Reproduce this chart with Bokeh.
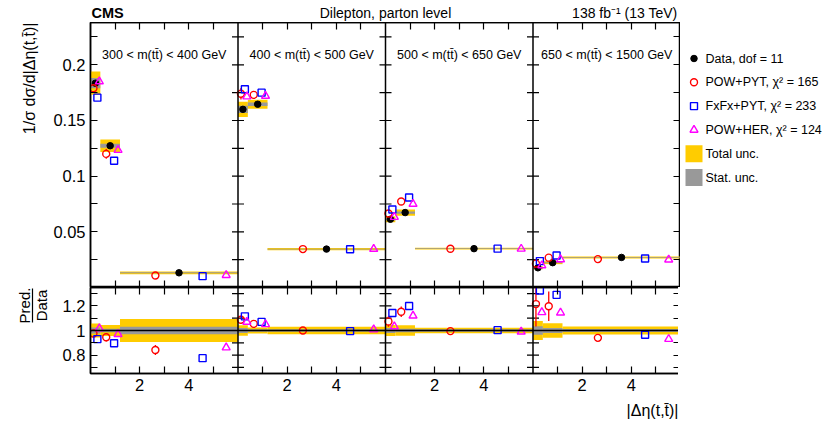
import math
from bokeh.plotting import figure
from bokeh.layouts import column, row
from bokeh.models import (FixedTicker, CustomJSTickFormatter, LinearAxis, Range1d,
                          Span, Label)
from bokeh.core.properties import value
from bokeh.embed import file_html
from bokeh.resources import INLINE

# ---------------- data ----------------
mass_bins = ["300 < m(tt\u0304) < 400 GeV", "400 < m(tt\u0304) < 500 GeV",
             "500 < m(tt\u0304) < 650 GeV", "650 < m(tt\u0304) < 1500 GeV"]
deta_edges = [0.0, 0.4, 1.2, 6.0]

# normalized cross section, 4 mass bins x 3 |delta eta| bins
data_xsec = [0.1835, 0.1273, 0.0132, 0.1600, 0.1646, 0.0345,
             0.0613, 0.0673, 0.0349, 0.0177, 0.0223, 0.0270]
pow_pyt = [0.1790, 0.1200, 0.0108, 0.1740, 0.1730, 0.0345,
           0.0664, 0.0772, 0.0348, 0.0214, 0.0268, 0.0255]
fxfx_pyt = [0.1705, 0.1138, 0.0102, 0.1780, 0.1750, 0.0343,
            0.0700, 0.0808, 0.0349, 0.0237, 0.0288, 0.0260]
pow_her = [0.1850, 0.1234, 0.0111, 0.1715, 0.1720, 0.0346,
           0.0633, 0.0750, 0.0347, 0.0198, 0.0252, 0.0250]

# ratios prediction / data
ratio_pyt = [0.975, 0.945, 0.841, 1.087, 1.054, 1.000,
             1.074, 1.153, 0.995, 1.215, 1.197, 0.940]
ratio_fxfx = [0.930, 0.896, 0.775, 1.115, 1.070, 0.995,
              1.142, 1.200, 1.003, 1.325, 1.290, 0.965]
ratio_her = [1.016, 0.970, 0.861, 1.070, 1.050, 1.008,
             1.033, 1.120, 0.990, 1.148, 1.145, 0.930]

# relative uncertainties
pyt_err_rel = [0.022, 0.037, 0.048, 0.030, 0.010, 0.005,
               0.040, 0.037, 0.005, 0.150, 0.100, 0.010]
total_unc_rel = [0.057, 0.044, 0.094, 0.043, 0.024, 0.030,
                 0.045, 0.042, 0.023, 0.078, 0.060, 0.032]
stat_unc_rel = [0.025, 0.014, 0.030, 0.020, 0.010, 0.010,
                0.020, 0.015, 0.010, 0.035, 0.020, 0.012]

legend_labels = ["Data, dof = 11", "POW+PYT, \u03c7\u00b2 = 165",
                 "FxFx+PYT, \u03c7\u00b2 = 233", "POW+HER, \u03c7\u00b2 = 124",
                 "Total unc.", "Stat. unc."]

# ---------------- style / geometry ----------------
FONT = "Liberation Sans"
PANEL_W = 6.0
N_PANELS = len(mass_bins)
X_END = PANEL_W * N_PANELS
LEFT_W = 50          # strip holding the rotated y titles
LEG_W = 142          # strip holding the legend
HEAD_H = 22          # strip holding the texts above the frame
FOOT_H = 27          # strip holding the x title
FW, TOP_FH, RAT_FH = 590, 265, 86
BORDER_L, BORDER_R, RAT_B = 38, 0, 25
TOTAL_H = HEAD_H + TOP_FH + RAT_FH + RAT_B + FOOT_H
TOP_Y = (0.0, 0.238)
RAT_Y = (0.65, 1.35)
YELLOW = "#FFCC00"
GREY = "#999999"
MARKER_R = 3.6

nb = len(deta_edges) - 1
lefts, rights, centers, widths = [], [], [], []
for i in range(len(data_xsec)):
    k, j = divmod(i, nb)
    l = deta_edges[j] + k * PANEL_W
    r = deta_edges[j + 1] + k * PANEL_W
    lefts.append(l); rights.append(r)
    centers.append(0.5 * (l + r)); widths.append(r - l)

x_data = centers
x_pyt = [c - 0.2 * w for c, w in zip(centers, widths)]
x_fxfx = [c + 0.2 * w for c, w in zip(centers, widths)]
x_her = [c + 0.4 * w for c, w in zip(centers, widths)]

x_major = [k * PANEL_W + t for k in range(N_PANELS) for t in (2, 4)]
x_minor = [k * PANEL_W + t for k in range(N_PANELS) for t in (1, 3, 5)]
x_fmt = CustomJSTickFormatter(code="return String(Math.round(tick) % 6);")
y_fmt = CustomJSTickFormatter(code="return String(Math.round(tick*1000)/1000);")

top_major = [0.05, 0.10, 0.15, 0.20]
top_minor = [0.025, 0.075, 0.125, 0.175, 0.225]
rat_major = [0.8, 1.0, 1.2]
rat_minor = [0.7, 0.9, 1.1, 1.3]


def style_axis(ax, ticker, formatter, labels):
    ax.ticker = ticker
    ax.formatter = formatter
    ax.major_tick_in = 7
    ax.major_tick_out = 0
    ax.minor_tick_in = 7
    ax.minor_tick_out = 0
    ax.axis_line_color = "black"
    ax.axis_line_width = 1.5
    ax.major_tick_line_width = 1.2
    ax.minor_tick_line_width = 1.2
    ax.major_tick_line_color = "black"
    ax.minor_tick_line_color = "black"
    if labels:
        ax.major_label_text_font = FONT
        ax.major_label_text_font_size = "16.5px"
        ax.major_label_text_color = "black"
        ax.major_label_standoff = 5
    else:
        ax.major_label_text_font_size = "0px"
        ax.major_label_text_alpha = 0
        ax.major_label_standoff = 0


def make_fig(frame_h, yr, border_bottom, ymaj, ymin, xlabels):
    p = figure(frame_width=FW, frame_height=frame_h, title=None,
               x_range=Range1d(0, X_END), y_range=Range1d(*yr),
               output_backend="svg", toolbar_location=None,
               min_border_left=BORDER_L, min_border_right=BORDER_R,
               min_border_top=0, min_border_bottom=border_bottom)
    p.grid.visible = False
    p.outline_line_color = "black"
    p.outline_line_width = 1.5
    p.background_fill_color = "white"
    p.border_fill_color = "white"
    style_axis(p.xaxis[0], FixedTicker(ticks=x_major, minor_ticks=x_minor), x_fmt, xlabels)
    style_axis(p.yaxis[0], FixedTicker(ticks=ymaj, minor_ticks=ymin), y_fmt, True)
    ax_top = LinearAxis()
    style_axis(ax_top, FixedTicker(ticks=x_major, minor_ticks=x_minor), x_fmt, False)
    p.add_layout(ax_top, "above")
    ax_right = LinearAxis()
    style_axis(ax_right, FixedTicker(ticks=ymaj, minor_ticks=ymin), y_fmt, False)
    p.add_layout(ax_right, "right")
    # panel dividers with ticks on both sides
    dx = 6.0 * X_END / FW
    sx0, sx1, sy = [], [], []
    for k in range(1, N_PANELS):
        p.add_layout(Span(location=k * PANEL_W, dimension="height",
                          line_color="black", line_width=1.5))
        for t in ymaj + ymin:
            sx0.append(k * PANEL_W - dx); sx1.append(k * PANEL_W + dx); sy.append(t)
    p.segment(x0=sx0, x1=sx1, y0=sy, y1=sy, line_color="black", line_width=1.2)
    return p


def strip_fig(frame_w, frame_h, border_l, border_r):
    p = figure(frame_width=frame_w, frame_height=frame_h, title=None,
               x_range=Range1d(0, frame_w), y_range=Range1d(0, frame_h),
               output_backend="svg", toolbar_location=None,
               x_axis_location=None, y_axis_location=None,
               min_border_left=border_l, min_border_right=border_r,
               min_border_top=0, min_border_bottom=0)
    p.grid.visible = False
    p.outline_line_color = None
    p.background_fill_color = "white"
    p.border_fill_color = "white"
    return p


def err_segments(p, xs, ys, errs, gap):
    x, y0, y1 = [], [], []
    for xi, yi, ei in zip(xs, ys, errs):
        if ei > gap:
            x += [xi, xi]; y0 += [yi + gap, yi - gap]; y1 += [yi + ei, yi - ei]
    p.segment(x0=x, x1=x, y0=y0, y1=y1, line_color="red", line_width=1.3)


# ---------------- top panel ----------------
top = make_fig(TOP_FH, TOP_Y, 0, top_major, top_minor, False)

top.quad(left=lefts, right=rights,
         bottom=[d * (1 - u) for d, u in zip(data_xsec, total_unc_rel)],
         top=[d * (1 + u) for d, u in zip(data_xsec, total_unc_rel)],
         fill_color=YELLOW, line_color=None)
top.quad(left=lefts, right=rights,
         bottom=[d * (1 - u) for d, u in zip(data_xsec, stat_unc_rel)],
         top=[d * (1 + u) for d, u in zip(data_xsec, stat_unc_rel)],
         fill_color=GREY, line_color=None)

top_gap = MARKER_R * (TOP_Y[1] - TOP_Y[0]) / TOP_FH
err_segments(top, x_pyt, pow_pyt, [v * e for v, e in zip(pow_pyt, pyt_err_rel)], top_gap)

top.scatter(x_data, data_xsec, marker="circle", size=6.5,
            fill_color="black", line_color="black")
top.scatter(x_pyt, pow_pyt, marker="circle", size=7, fill_alpha=0,
            line_color="red", line_width=1.4)
top.scatter(x_fxfx, fxfx_pyt, marker="square", size=7, fill_alpha=0,
            line_color="blue", line_width=1.4)
top.scatter(x_her, pow_her, marker="triangle", size=8, fill_alpha=0,
            line_color="magenta", line_width=1.4)

for k, txt in enumerate(mass_bins):
    top.add_layout(Label(x=(k + 0.5) * PANEL_W, y=TOP_Y[1], y_offset=-32,
                         text=txt, text_align="center", text_baseline="alphabetic",
                         text_font=FONT, text_font_size="12.5px", text_color="black"))

# ---------------- ratio panel ----------------
rat = make_fig(RAT_FH, RAT_Y, RAT_B, rat_major, rat_minor, True)
rat.quad(left=lefts, right=rights, bottom=[1 - u for u in total_unc_rel],
         top=[1 + u for u in total_unc_rel], fill_color=YELLOW, line_color=None)
rat.quad(left=lefts, right=rights, bottom=[1 - u for u in stat_unc_rel],
         top=[1 + u for u in stat_unc_rel], fill_color=GREY, line_color=None)
rat.add_layout(Span(location=1.0, dimension="width", line_color="black", line_width=1.5))

rat_gap = MARKER_R * (RAT_Y[1] - RAT_Y[0]) / RAT_FH
err_segments(rat, x_pyt, ratio_pyt, [v * e for v, e in zip(ratio_pyt, pyt_err_rel)], rat_gap)
rat.scatter(x_pyt, ratio_pyt, marker="circle", size=7, fill_alpha=0,
            line_color="red", line_width=1.4)
rat.scatter(x_fxfx, ratio_fxfx, marker="square", size=7, fill_alpha=0,
            line_color="blue", line_width=1.4)
rat.scatter(x_her, ratio_her, marker="triangle", size=8, fill_alpha=0,
            line_color="magenta", line_width=1.4)

# ---------------- header strip (texts above the frame) ----------------
head = strip_fig(FW, HEAD_H, BORDER_L, BORDER_R)
head.text(x=[1], y=[2], text=["CMS"], text_font=value(FONT),
          text_font_style="bold", text_font_size="14.5px",
          text_align="left", text_baseline="bottom")
head.text(x=[FW / 2], y=[2], text=["Dilepton, parton level"],
          text_font=value(FONT), text_font_size="14px",
          text_align="center", text_baseline="bottom")
head.text(x=[FW - 3], y=[2], text=["138 fb\u207b\u00b9 (13 TeV)"],
          text_font=value(FONT), text_font_size="14px",
          text_align="right", text_baseline="bottom")

# ---------------- footer strip (x title) ----------------
foot = strip_fig(FW, FOOT_H, BORDER_L, BORDER_R)
foot.text(x=[FW - 2], y=[FOOT_H - 3], text=["|\u0394\u03b7(t,t\u0304)|"],
          text_font=value(FONT), text_font_size="16px",
          text_align="right", text_baseline="top")

# ---------------- left strip (rotated y titles) ----------------
left = strip_fig(LEFT_W, TOTAL_H, 0, 0)
left.text(x=[37], y=[TOTAL_H - HEAD_H], text=["1/\u03c3 d\u03c3/d|\u0394\u03b7(t,t\u0304)|"],
          angle=math.pi / 2, text_font=value(FONT), text_font_size="16px",
          text_align="right", text_baseline="bottom")
ratio_mid = TOTAL_H - 305
left.text(x=[32.5], y=[ratio_mid], text=["Pred."],
          angle=math.pi / 2, text_font=value(FONT), text_font_size="15px",
          text_align="center", text_baseline="bottom")
left.text(x=[49.5], y=[ratio_mid], text=["Data"],
          angle=math.pi / 2, text_font=value(FONT), text_font_size="15px",
          text_align="center", text_baseline="bottom")
left.segment(x0=[32], x1=[32], y0=[ratio_mid - 17], y1=[ratio_mid + 17],
             line_color="black", line_width=1.2)

# ---------------- legend strip (right of the panels) ----------------
leg = strip_fig(LEG_W, TOTAL_H, 0, 0)
LEG_X_GLYPH, LEG_X_TEXT, LEG_Y0, LEG_DY = 13.5, 25, TOTAL_H - 58, 23.8
leg_y = [LEG_Y0 - i * LEG_DY for i in range(len(legend_labels))]
leg.scatter([LEG_X_GLYPH], [leg_y[0]], marker="circle", size=6.5,
            fill_color="black", line_color="black")
leg.scatter([LEG_X_GLYPH], [leg_y[1]], marker="circle", size=7, fill_alpha=0,
            line_color="red", line_width=1.4)
leg.scatter([LEG_X_GLYPH], [leg_y[2]], marker="square", size=7, fill_alpha=0,
            line_color="blue", line_width=1.4)
leg.scatter([LEG_X_GLYPH], [leg_y[3]], marker="triangle", size=8, fill_alpha=0,
            line_color="magenta", line_width=1.4)
leg.rect(x=[LEG_X_GLYPH, LEG_X_GLYPH], y=[leg_y[4], leg_y[5]], width=17, height=17,
         fill_color=[YELLOW, GREY], line_color=None)
leg.text(x=[LEG_X_TEXT] * len(legend_labels), y=leg_y, text=legend_labels,
         text_font=value(FONT), text_font_size="12.5px",
         text_align="left", text_baseline="middle")

layout = row(left, column(head, top, rat, foot, spacing=0), leg, spacing=0)
open("out.html", "w").write(file_html(layout, INLINE))
